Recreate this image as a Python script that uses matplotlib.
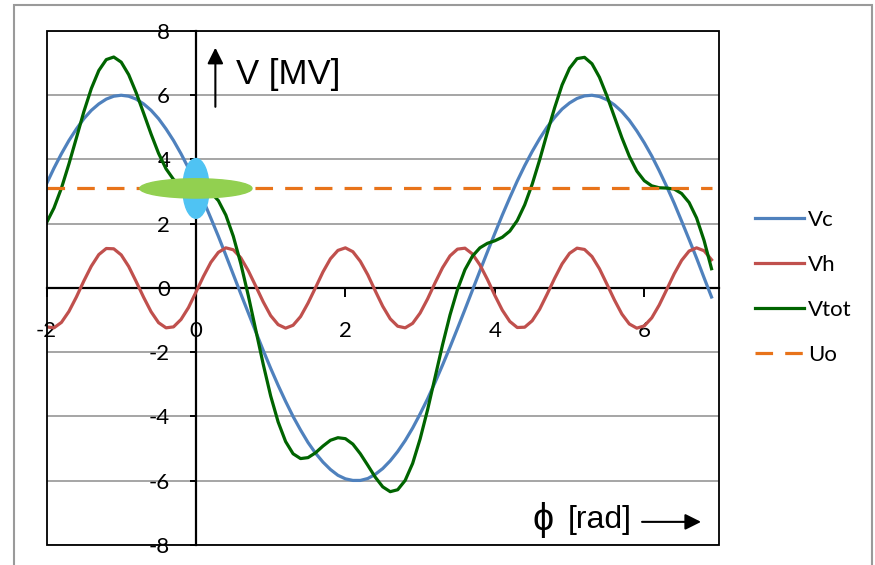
import numpy as np
import matplotlib
matplotlib.use("Agg")
import matplotlib.pyplot as plt
from matplotlib.patches import Ellipse, Rectangle

plt.rcParams['axes.unicode_minus'] = False

# phase samples [rad], step 0.1 from -2.0 to 6.9
phi = np.linspace(-2.0, 6.9, 90)

vc = [3.24, 3.73, 4.18, 4.59, 4.95, 5.27, 5.53, 5.73, 5.88, 5.97,
      6.00, 5.97, 5.88, 5.73, 5.53, 5.27, 4.95, 4.59, 4.18, 3.73,
      3.24, 2.72, 2.17, 1.61, 1.02, 0.42, -0.18, -0.77, -1.36, -1.94,
      -2.50, -3.03, -3.53, -4.00, -4.42, -4.81, -5.14, -5.42, -5.65, -5.83,
      -5.94, -5.99, -5.99, -5.93, -5.80, -5.62, -5.38, -5.09, -4.75, -4.36,
      -3.92, -3.45, -2.94, -2.40, -1.84, -1.26, -0.67, -0.07, 0.53, 1.12,
      1.70, 2.27, 2.81, 3.33, 3.81, 4.25, 4.65, 5.01, 5.31, 5.57,
      5.76, 5.90, 5.98, 6.00, 5.96, 5.86, 5.70, 5.49, 5.22, 4.89,
      4.52, 4.11, 3.65, 3.16, 2.64, 2.08, 1.51, 0.93, 0.32, -0.28]

vh = [-1.21, -1.24, -1.07, -0.73, -0.28, 0.22, 0.68, 1.04, 1.23, 1.22,
      1.03, 0.67, 0.20, -0.29, -0.74, -1.08, -1.24, -1.21, -0.98, -0.61,
      -0.13, 0.36, 0.80, 1.11, 1.25, 1.19, 0.94, 0.54, 0.06, -0.43,
      -0.86, -1.14, -1.25, -1.16, -0.89, -0.47, 0.01, 0.50, 0.91, 1.17,
      1.25, 1.13, 0.83, 0.41, -0.09, -0.57, -0.96, -1.19, -1.24, -1.10,
      -0.78, -0.34, 0.16, 0.63, 1.00, 1.21, 1.24, 1.06, 0.72, 0.27,
      -0.23, -0.69, -1.04, -1.23, -1.22, -1.02, -0.66, -0.19, 0.30, 0.75,
      1.08, 1.24, 1.20, 0.98, 0.60, 0.12, -0.37, -0.81, -1.12, -1.25,
      -1.18, -0.93, -0.53, -0.05, 0.44, 0.86, 1.15, 1.25, 1.16, 0.88]

vtot = [2.03, 2.49, 3.11, 3.86, 4.67, 5.49, 6.21, 6.77, 7.11, 7.19,
        7.03, 6.64, 6.08, 5.44, 4.79, 4.19, 3.71, 3.38, 3.20, 3.12,
        3.11, 3.08, 2.97, 2.72, 2.27, 1.61, 0.76, -0.23, -1.30, -2.37,
        -3.36, -4.17, -4.78, -5.16, -5.31, -5.28, -5.13, -4.92, -4.74, -4.66,
        -4.69, -4.86, -5.16, -5.52, -5.89, -6.19, -6.34, -6.28, -5.99, -5.46,
        -4.70, -3.79, -2.78, -1.77, -0.84, -0.05, 0.57, 0.99, 1.25, 1.39,
        1.47, 1.58, 1.77, 2.10, 2.59, 3.23, 3.99, 4.82, 5.61, 6.32,
        6.84, 7.14, 7.18, 6.98, 6.56, 5.98, 5.33, 4.68, 4.10, 3.64,
        3.34, 3.18, 3.12, 3.11, 3.08, 2.94, 2.66, 2.18, 1.48, 0.60]

uo_phi = [-2.0, 6.9]
uo = [3.1, 3.1]

x_ticks = [-2, 0, 2, 4, 6]
y_ticks = [-8, -6, -4, -2, 0, 2, 4, 6, 8]

fig = plt.figure(figsize=(8.75, 5.65), dpi=100)
W, H = 875, 565
ax = fig.add_axes([46.5 / W, 1 - 545 / H, (719 - 46.5) / W, (545 - 31) / H])

ax.plot(phi, vc, color='#4F81BD', lw=2.3, label='Vc', zorder=3)
ax.plot(phi, vh, color='#C0504D', lw=2.3, label='Vh', zorder=3)
ax.plot(phi, vtot, color='#006400', lw=2.3, label='Vtot', zorder=3)
ax.plot(uo_phi, uo, color='#E8731A', lw=2.3, linestyle=(0, (5.5, 3.8)), label='Uo', zorder=3)

ax.set_xlim(-2, 7)
ax.set_ylim(-8, 8)
ax.set_xticks(x_ticks)
ax.set_yticks(y_ticks)

# axes through the origin, plot area framed separately
ax.spines['top'].set_visible(False)
ax.spines['right'].set_visible(False)
ax.spines['left'].set_position(('data', 0))
ax.spines['bottom'].set_position(('data', 0))
ax.spines['left'].set_linewidth(1.6)
ax.spines['bottom'].set_linewidth(1.6)
ax.spines['left'].set_zorder(2.5)
ax.spines['bottom'].set_zorder(2.5)
ax.tick_params(axis='y', direction='out', length=4.5, width=1.4, pad=14,
               labelsize=16, labelfontfamily='Lato')
ax.tick_params(axis='x', direction='out', length=6.5, width=1.4, pad=17,
               labelsize=16, labelfontfamily='Lato')
ax.set_xticklabels([str(v) for v in x_ticks])
ax.set_yticklabels([str(v) for v in y_ticks])
ax.add_patch(Rectangle((0, 0), 1, 1, transform=ax.transAxes, fill=False,
                       ec='black', lw=1.3, clip_on=False, zorder=4))

ax.yaxis.grid(True, color='#969696', lw=1.2)
ax.set_axisbelow(True)

# operating point markers
ax.add_patch(Ellipse((0, 3.1), 0.35, 1.86, color='#4FC3F3', zorder=5))
ax.add_patch(Ellipse((0, 3.1), 1.5, 0.6, color='#92D050', zorder=6))

# axis captions with arrows
ax.annotate('', xy=(0.26, 7.48), xytext=(0.26, 5.64),
            arrowprops=dict(arrowstyle='-|>', lw=1.5, color='black',
                            mutation_scale=24, shrinkA=0, shrinkB=0))
ax.text(0.54, 6.65, 'V [MV]', fontsize=25, family=['Liberation Sans', 'DejaVu Sans'],
        ha='left', va='center')
ax.annotate('', xy=(6.76, -7.28), xytext=(5.97, -7.28),
            arrowprops=dict(arrowstyle='-|>', lw=1.5, color='black',
                            mutation_scale=24, shrinkA=0, shrinkB=0))
ax.text(4.50, -7.22, '\u03d5', fontsize=27, family=['Liberation Sans', 'DejaVu Sans'],
        ha='left', va='center')
ax.text(4.97, -7.22, '[rad]', fontsize=23, family=['Liberation Sans', 'DejaVu Sans'],
        ha='left', va='center')

leg = ax.legend(loc='center left', bbox_to_anchor=(755 / W, 1 - 287.5 / H),
                bbox_transform=fig.transFigure, frameon=False,
                prop={'family': 'Lato', 'size': 16}, handlelength=2.2,
                handletextpad=0.2, labelspacing=1.12, borderpad=0, borderaxespad=0)

# outer chart frame
fig.patches.append(Rectangle((14.3 / W, -0.02), (871.7 - 14.3) / W, 1 - 4.7 / H + 0.02,
                             transform=fig.transFigure, fill=False, ec='#9a9a9a', lw=1.5))

fig.savefig('out.png', dpi=100)
